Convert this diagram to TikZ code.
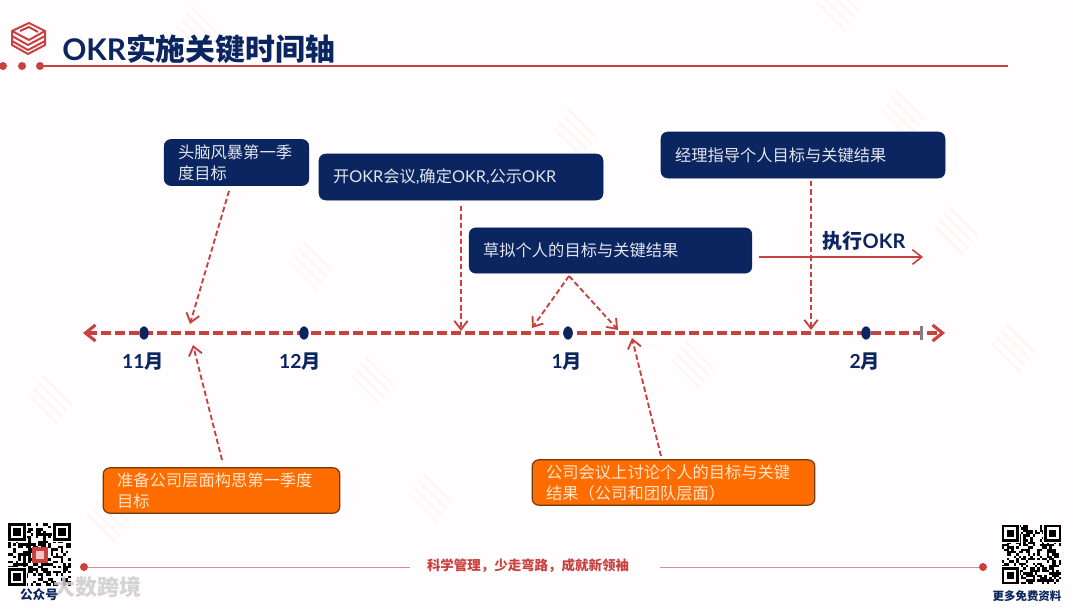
\documentclass[tikz,border=0pt]{standalone}
\usepackage{fontspec}
\setmainfont{Noto Sans CJK SC}
\newfontfamily\latinfont{Lato}
\usetikzlibrary{arrows.meta,shapes.geometric}
\definecolor{navy}{HTML}{0B2560}
\definecolor{okrred}{HTML}{C9403F}
\definecolor{okrorange}{HTML}{FF6C00}
\definecolor{okrrim}{HTML}{6E3A10}
\definecolor{paper}{HTML}{FFFDFD}
\newcommand{\okrname}{{\latinfont OKR}}
\tikzset{
    bluebox/.style={draw=navy!90!black, fill=navy, rounded corners=5pt, text=white!88!navy, font=\fontsize{12.2}{15.8}\selectfont, align=left, inner xsep=10.5pt, inner ysep=0pt},
    orangebox/.style={draw=okrrim, line width=0.9pt, fill=okrorange, rounded corners=5pt, text=white!80!orange, font=\fontsize{12.2}{15.8}\selectfont, align=left, inner xsep=10.5pt, inner ysep=0pt},
    axisline/.style={okrred, line width=2.3pt, dash pattern=on 7.5pt off 3pt, {Straight Barb[length=7.5pt,width=12pt,line width=2.3pt]}-{Straight Barb[length=7.5pt,width=12pt,line width=2.3pt]}},
    dashlink/.style={okrred, line width=1.4pt, dash pattern=on 4pt off 2.2pt, -{Straight Barb[length=6.5pt,width=10pt,line width=1.4pt]}},
    monthdot/.style={ellipse, fill=navy, minimum width=7pt, minimum height=10pt, inner sep=0pt},
    monthlabel/.style={text=navy, font=\fontsize{14.5}{16}\bfseries\selectfont},
    enddot/.style={circle, fill=okrred, minimum size=6pt, inner sep=0pt},
}
% Faint stacked logo
\newcommand{\wmark}[2]{%
    \begin{scope}[shift={(#1,#2)}, rotate=-35, okrred, opacity=0.035, line width=1.8pt]
        \foreach \k in {-12,-4,4,12} {
            \draw (-20,\k) -- (20,\k+7);
        }
    \end{scope}
}
% Square code drawn from cells
\newcommand{\qrblock}[4]{%
    \begin{scope}[shift={(#1,#2)}, x=#3*0.03pt, y=-#3*0.03pt]
        \pgfmathsetseed{#4}
        \foreach \i in {0,...,24} {
            \foreach \j in {0,...,24} {
                \pgfmathrandominteger{\bit}{0}{1}
                \ifnum\bit=1
                    \fill (\i,\j) rectangle (\i+1,\j+1);
                \fi
            }
        }
        \foreach \cx/\cy in {0/0, 18/0, 0/18} {
            \fill[white] (\cx-0.5,\cy-0.5) rectangle (\cx+7.5,\cy+7.5);
            \fill (\cx,\cy) rectangle (\cx+7,\cy+7);
            \fill[white] (\cx+1,\cy+1) rectangle (\cx+6,\cy+6);
            \fill (\cx+2,\cy+2) rectangle (\cx+5,\cy+5);
        }
    \end{scope}
}
\begin{document}
\begin{tikzpicture}[x=0.75pt, y=-0.75pt]
    \useasboundingbox (0,0) rectangle (1080,607);
    \fill[paper] (0,0) rectangle (1080,607);

    % Watermarks
    \foreach \wx/\wy in {577/130, 905/112, 958/228, 1015/345, 695/362, 375/378, 52/397, 432/495, 312/263, 110/515, 200/28, 840/4} {
        \wmark{\wx}{\wy}
    }

    % Logo and title
    \begin{scope}[okrred, line width=1.5pt, line join=round]
        \draw (29,23) -- (45,31) -- (29,40) -- (12,31) -- cycle;
        \draw (12,31) -- (12,45) -- (28,54) -- (45,45) -- (45,31);
        \draw (12,36) -- (28,45) -- (45,36);
        \draw (12,41) -- (28,50) -- (45,41);
        \draw (20,31) -- (29,27) -- (38,32);
    \end{scope}
    \node[anchor=west, text=navy, font=\fontsize{22.4}{26}\bfseries\selectfont, inner sep=0pt] (title) at (62,49) {\okrname 实施关键时间轴};
    \node[enddot] (hdot1) at (3,66) {};
    \node[enddot] (hdot2) at (22,66) {};
    \node[enddot] (hdot3) at (40,66) {};
    \coordinate (hend) at (1008,66);
    \draw[okrred, line width=1.2pt] (hdot3) -- (hend);

    % Boxes above the axis
    \node[bluebox, text width=87.5pt, minimum height=34.5pt] (brainstorm) at (236.5,162.5) {头脑风暴第一季\\度目标};
    \node[bluebox, text width=192pt, minimum height=34.5pt] (meeting) at (461,177) {开\okrname 会议{\latinfont ,}确定\okrname{\latinfont ,}公示\okrname};
    \node[bluebox, text width=191pt, minimum height=34pt] (draft) at (610.5,250.5) {草拟个人的目标与关键结果};
    \node[bluebox, text width=192pt, minimum height=34.5pt] (coach) at (803,155) {经理指导个人目标与关键结果};

    % Boxes below the axis
    \node[orangebox, text width=156.5pt, minimum height=34pt] (prepare) at (221.5,490.5) {准备公司层面构思第一季度\\目标};
    \node[orangebox, text width=191pt, minimum height=34pt] (discuss) at (673.5,482.5) {公司会议上讨论个人的目标与关键\\结果（公司和团队层面）};

    % Time axis
    \coordinate (axisL) at (83,333);
    \coordinate (axisR) at (945,333);
    \draw[axisline] (axisL) -- (axisR);
    \fill[gray] (919.5,326) rectangle (922.5,340);

    % Months
    \node[monthdot] (nov) at (144,333) {};
    \node[monthdot] (dec) at (304,333) {};
    \node[monthdot] (jan) at (568,333) {};
    \node[monthdot] (feb) at (866,333) {};
    \node[monthlabel] (novl) at (143,362) {{\latinfont 11}月};
    \node[monthlabel] (decl) at (300,362) {{\latinfont 12}月};
    \node[monthlabel] (janl) at (567,362) {{\latinfont 1}月};
    \node[monthlabel] (febl) at (865,362) {{\latinfont 2}月};

    % Links onto the axis
    \coordinate (brainS) at (229,191);
    \coordinate (brainE) at (190,324);
    \draw[dashlink] (brainS) -- (brainE);
    \coordinate (meetS) at (461,206);
    \coordinate (meetE) at (461,331);
    \draw[dashlink] (meetS) -- (meetE);
    \coordinate (draftS) at (569,276);
    \coordinate (draftL) at (532,328);
    \coordinate (draftR) at (618,330);
    \draw[dashlink] (draftS) -- (draftL);
    \draw[dashlink] (draftS) -- (draftR);
    \coordinate (coachS) at (811,181);
    \coordinate (coachE) at (811,330);
    \draw[dashlink] (coachS) -- (coachE);
    \coordinate (prepS) at (222,460);
    \coordinate (prepE) at (193,345);
    \draw[dashlink] (prepS) -- (prepE);
    \coordinate (discS) at (661,456);
    \coordinate (discE) at (632,338);
    \draw[dashlink] (discS) -- (discE);

    % Execution arrow
    \coordinate (execS) at (759,257);
    \coordinate (execE) at (923,257);
    \draw[okrred, line width=1.2pt, -{Straight Barb[length=7pt,width=11pt,line width=1.2pt]}] (execS) -- (execE);
    \node[text=navy, font=\fontsize{15}{17}\bfseries\selectfont, inner sep=0pt] (exec) at (864,241) {执行\okrname};

    % Footer
    \node[text=okrred, font=\fontsize{10.1}{12}\bfseries\selectfont, inner sep=0pt] (slogan) at (528,566) {科学管理，少走弯路，成就新领袖};
    \node[enddot] (fdotL) at (84,567) {};
    \node[enddot] (fdotR) at (983,567) {};
    \coordinate (sloganL) at (410,567);
    \coordinate (sloganR) at (660,567);
    \draw[okrred!60, line width=0.6pt] (fdotL) -- (sloganL);
    \draw[okrred!60, line width=0.6pt] (sloganR) -- (fdotR);

    % Codes
    \qrblock{8}{523}{63}{17}
    \fill[okrred] (32,547) rectangle (48,563);
    \fill[white!70!okrred] (36,551) rectangle (44,559);
    \qrblock{1002}{525}{59}{42}
    \node[gray!40, opacity=0.85, font=\fontsize{16.5}{18}\bfseries\selectfont, inner sep=0pt] (stamp) at (97,587) {大数跨境};
    \node[text=navy, font=\fontsize{9.5}{11}\bfseries\selectfont, inner sep=0pt] (pubacc) at (39,595) {公众号};
    \node[text=navy, font=\fontsize{8.6}{10}\bfseries\selectfont, inner sep=0pt] (more) at (1027,596) {更多免费资料};
\end{tikzpicture}
\end{document}
